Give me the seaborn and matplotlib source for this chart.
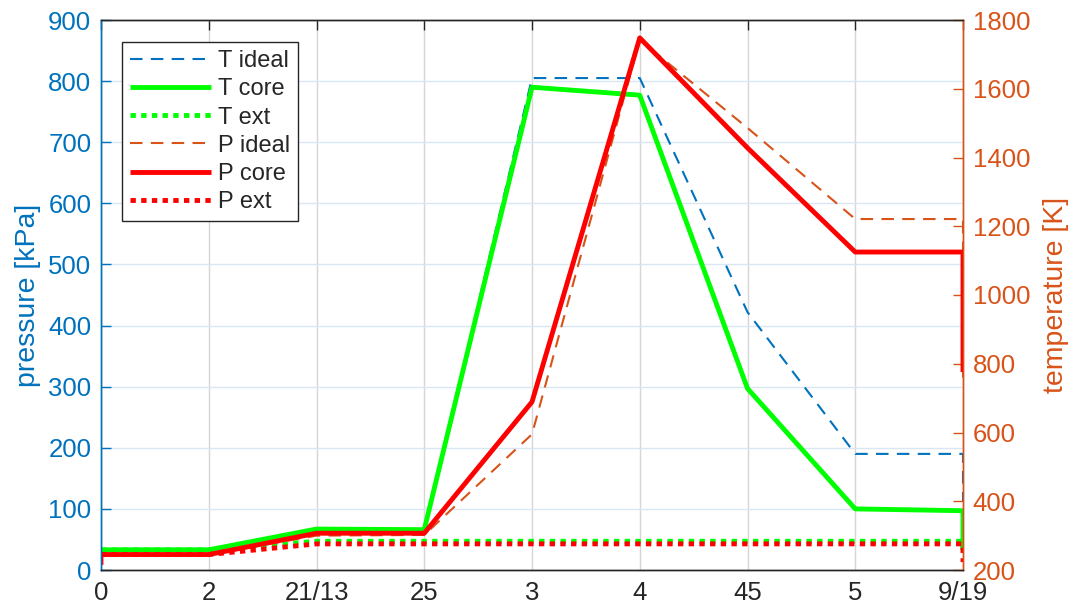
import matplotlib

matplotlib.use("Agg")
import matplotlib.pyplot as plt
import pandas as pd
import seaborn as sns

# x tick labels (state names) and the state index of each sample
CATEGORIES = ["0", "2", "21/13", "25", "3", "4", "45", "5", "9/19"]
STATE_POS = [0, 0, 1, 2, 3, 4, 5, 6, 7, 8, 8]

# left axis series
T_IDEAL = [33, 33, 33, 65, 65, 805, 805, 422, 190, 190, 112]
T_CORE = [33, 33, 33, 67, 66, 790, 777, 297, 100, 97, 33]
T_EXT = [33, 33, 33, 47, 47, 47, 47, 47, 47, 47, 30]

# right axis series
P_IDEAL = [245, 245, 245, 300, 302, 595, 1742, 1486, 1221, 1221, 760]
P_CORE = [215, 245, 245, 307, 307, 689, 1748, 1428, 1125, 1125, 776]
P_EXT = [245, 245, 245, 276, 276, 276, 276, 276, 276, 276, 223]

BLUE = "#0072BD"
ORANGE = "#D95319"
GREEN = "#00FF00"
RED = "#FF0000"
DARK = "#262626"

sns.set_style("white")
plt.rcParams["font.family"] = ["Liberation Sans", "DejaVu Sans"]

DASH = (0, (6, 4))
DOT = (0, (1.1, 1.1))

left_series = [
    ("T ideal", T_IDEAL, BLUE, DASH, 1.5),
    ("T core", T_CORE, GREEN, "-", 3.5),
    ("T ext", T_EXT, GREEN, DOT, 3.5),
]
right_series = [
    ("P ideal", P_IDEAL, ORANGE, DASH, 1.5),
    ("P core", P_CORE, RED, "-", 3.5),
    ("P ext", P_EXT, RED, DOT, 3.5),
]

fig = plt.figure(figsize=(10.77, 6.11), dpi=100)
ax = fig.add_axes([101 / 1077, 41 / 611, 862 / 1077, 550 / 611])
ax2 = ax.twinx()


def _draw(axis, series):
    for name, vals, color, ls, lw in series:
        df = pd.DataFrame({"x": STATE_POS, "y": vals})
        sns.lineplot(
            data=df, x="x", y="y", ax=axis, estimator=None, sort=False,
            color=color, linestyle=ls, linewidth=lw, label=name,
            solid_capstyle="butt", dash_capstyle="butt",
        )


_draw(ax, left_series)
_draw(ax2, right_series)

ax.set_xlim(0, len(CATEGORIES) - 1)
ax.set_xticks(range(len(CATEGORIES)))
ax.set_xticklabels(CATEGORIES)
ax.set_ylim(0, 900)
ax.set_yticks(range(0, 901, 100))
ax2.set_ylim(200, 1800)
ax2.set_yticks(range(200, 1801, 200))

ax.set_xlabel("")
ax.set_ylabel("pressure [kPa]", color=BLUE, fontsize=20.5, labelpad=5)
ax2.set_ylabel("temperature [K]", color=ORANGE, fontsize=20.5, labelpad=9)

# grid: vertical gray, horizontal light blue (left axis)
ax.grid(True, axis="x", color="#d6d6d6", linewidth=1.0)
ax.grid(True, axis="y", color="#d9e6f3", linewidth=1.0)
ax.set_axisbelow(True)

ax.tick_params(axis="x", direction="in", length=7, colors=DARK, labelsize=18.5,
               pad=8, top=True, width=1)
ax.tick_params(axis="y", direction="in", length=7, colors=BLUE, labelsize=18.5,
               pad=7, width=1)
ax2.tick_params(axis="y", direction="in", length=7, colors=ORANGE, labelsize=18.5,
                pad=7, width=1)

for a in (ax, ax2):
    a.spines["top"].set_color(DARK)
    a.spines["bottom"].set_color(DARK)
    a.spines["left"].set_color(BLUE)
    a.spines["right"].set_color(ORANGE)
    for s in a.spines.values():
        s.set_linewidth(1.0)

# merged legend on top axis
h1, l1 = ax.get_legend_handles_labels()
h2, l2 = ax2.get_legend_handles_labels()
if ax.get_legend():
    ax.get_legend().remove()
if ax2.get_legend():
    ax2.get_legend().remove()
leg = ax2.legend(
    h1 + h2, l1 + l2, loc="upper left", bbox_to_anchor=(0.0244, 0.96),
    borderaxespad=0, fontsize=17, frameon=True, fancybox=False,
    edgecolor=DARK, handlelength=3.4, labelspacing=0.26, handletextpad=0.3,
    borderpad=0.35,
)
leg.get_frame().set_linewidth(1.0)
leg.get_frame().set_alpha(1)
for t in leg.get_texts():
    t.set_color(DARK)

fig.savefig("out.png", dpi=100)
